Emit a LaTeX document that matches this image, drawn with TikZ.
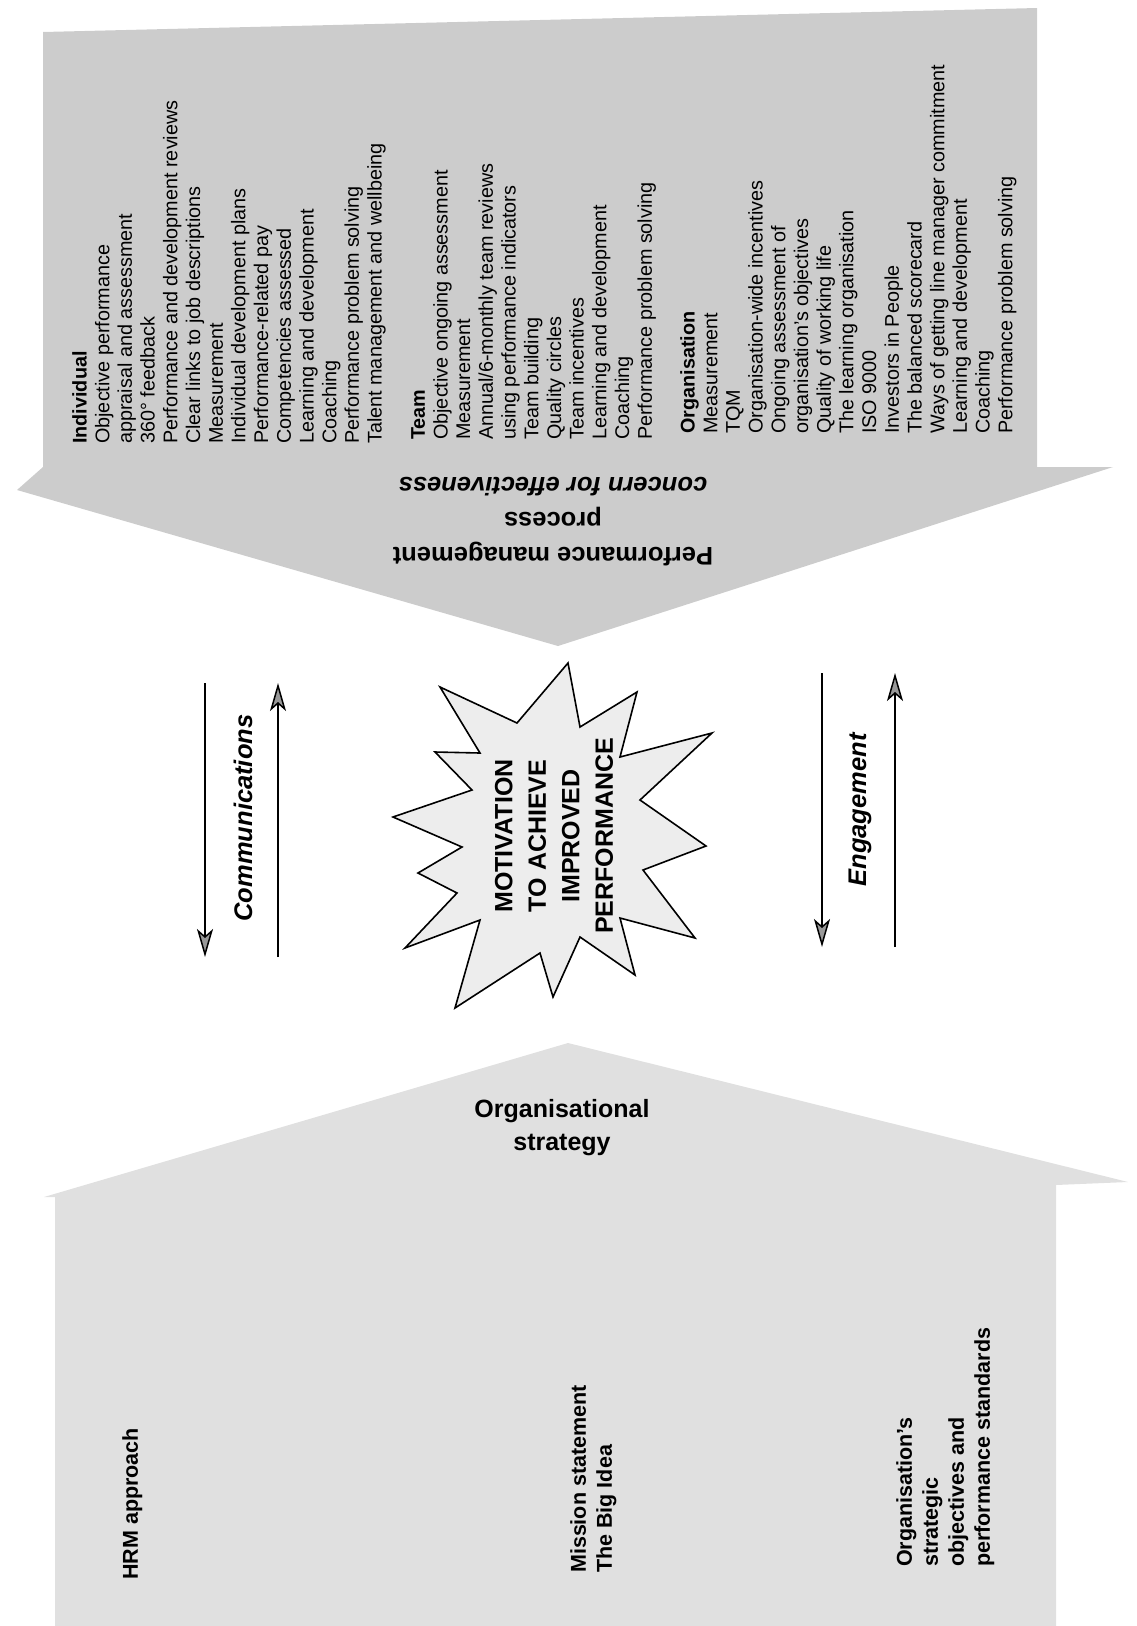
\documentclass[tikz,border=0pt]{standalone}
\usepackage{fontspec}
\setmainfont{Liberation Sans}
\usetikzlibrary{arrows.meta}

\begin{document}
\begin{tikzpicture}[x=1pt, y=-1pt]
\tikzset{
    topband/.style= {fill=black!20},
    lowband/.style= {fill=black!12},
    spark/.style= {draw=black, fill=black!7, line width=1.6pt, line join=miter},
    burst/.style= {rotate=90, align=center, inner sep=0pt, font=\bfseries\fontsize{25}{33.5}\selectfont},
    item/.style= {rotate=90, anchor=north west, align=left, inner sep=0pt, font=\fontsize{19.8}{22.7}\selectfont},
    lbl/.style= {rotate=90, anchor=north west, align=left, inner sep=0pt, font=\bfseries\fontsize{21.5}{26}\selectfont},
    say/.style= {inner sep=0pt, font=\bfseries\itshape\fontsize{25.5}{35}\selectfont},
    flow/.style= {line width=1.5pt, -{Stealth[length=28pt, width=16pt, inset=7pt, fill=black!40]}},
}
\useasboundingbox (0,0) rectangle (1136,1626);

% the two shaded arrows
\fill[topband] (43,32) -- (1037,8) -- (1037,467) -- (1113,467) -- (558,646)
    -- (17,490) -- (43,467) -- cycle;
\fill[lowband] (55,1626) -- (55,1197) -- (44,1197) -- (568,1043) -- (1128,1182)
    -- (1056,1185) -- (1056,1626) -- cycle;

% the star
\draw[spark] (568,663) -- (580,727) -- (637,692) -- (620,757) -- (712,733)
    -- (640,800) -- (706,846) -- (643,870) -- (695,938) -- (620,918)
    -- (635,975) -- (580,937) -- (553,997) -- (540,953) -- (455,1008)
    -- (480,920) -- (405,948) -- (457,893) -- (418,873) -- (462,847)
    -- (393,817) -- (472,790) -- (435,752) -- (480,753) -- (440,687)
    -- (517,723) -- cycle;
\node[burst] (motiv) at (554,836) {MOTIVATION\\TO ACHIEVE\\IMPROVED\\PERFORMANCE};

% performance management lists
\node[item] (indiv) at (72,444) {\textbf{Individual}\\
Objective performance\\
appraisal and assessment\\
360° feedback\\
Performance and development reviews\\
Clear links to job descriptions\\
Measurement\\
Individual development plans\\
Performance-related pay\\
Competencies assessed\\
Learning and development\\
Coaching\\
Performance problem solving\\
Talent management and wellbeing};
\node[item] (team) at (411,440) {\textbf{Team}\\
Objective ongoing assessment\\
Measurement\\
Annual/6-monthly team reviews\\
using performance indicators\\
Team building\\
Quality circles\\
Team incentives\\
Learning and development\\
Coaching\\
Performance problem solving};
\node[item] (org) at (680,434) {\textbf{Organisation}\\
Measurement\\
TQM\\
Organisation-wide incentives\\
Ongoing assessment of\\
organisation's objectives\\
Quality of working life\\
The learning organisation\\
ISO 9000\\
Investors in People\\
The balanced scorecard\\
Ways of getting line manager commitment\\
Learning and development\\
Coaching\\
Performance problem solving};

\node[say, rotate=180, align=center, font=\bfseries\fontsize{25.5}{35}\selectfont] (pmp) at (553,522)
    {Performance management\\process\\\textit{concern for effectiveness}};

% communications and engagement
\coordinate (ca) at (205,683);
\coordinate (cb) at (205,957);
\coordinate (cc) at (278,957);
\coordinate (cd) at (278,683);
\draw[flow] (ca) -- (cb);
\draw[flow] (cc) -- (cd);
\node[say, rotate=90] (comm) at (243,818) {Communications};

\coordinate (ea) at (822,673);
\coordinate (eb) at (822,947);
\coordinate (ec) at (895,947);
\coordinate (ed) at (895,673);
\draw[flow] (ea) -- (eb);
\draw[flow] (ec) -- (ed);
\node[say, rotate=90] (eng) at (860,810) {Engagement};

% organisational strategy
\node[inner sep=0pt, align=center, font=\bfseries\fontsize{25}{33}\selectfont] (orgs) at (562,1128)
    {Organisational\\strategy};
\node[lbl] (hrm) at (122,1580) {HRM approach};
\node[lbl] (miss) at (570,1573) {Mission statement\\The Big Idea};
\node[lbl] (objs) at (896,1567) {Organisation's\\strategic\\objectives and\\performance standards};
\end{tikzpicture}
\end{document}
